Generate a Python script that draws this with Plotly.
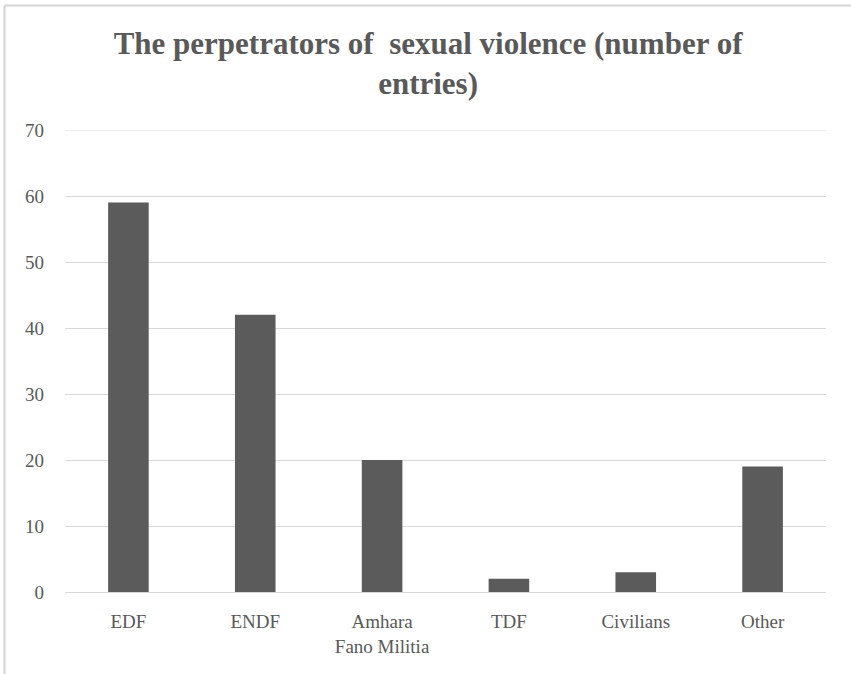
import plotly.graph_objects as go

categories = ["EDF", "ENDF", "Amhara<br>Fano Militia", "TDF", "Civilians", "Other"]
values = [59, 42, 20, 2, 3, 19]
y_ticks = [0, 10, 20, 30, 40, 50, 60, 70]

W, H = 851, 674
L, R, T, B = 65, 25, 130, 82
pw, ph = W - L - R, H - T - B

fig = go.Figure(go.Bar(
    x=categories, y=values,
    marker=dict(color="#5b5b5b", line=dict(width=0)),
    width=0.32,
))

font_family = "Liberation Serif, DejaVu Serif, serif"
fig.update_layout(
    width=W, height=H,
    margin=dict(l=L, r=R, t=T, b=B),
    paper_bgcolor="white", plot_bgcolor="white",
    showlegend=False,
    title=dict(
        text="<b>The perpetrators of  sexual violence (number of<br>entries)</b>",
        x=0.503, xanchor="center", y=1 - 54 / H, yanchor="top",
        font=dict(family=font_family, size=31, color="#595959"),
    ),
    font=dict(family=font_family, size=19, color="#595959"),
    bargap=0.68,
)
fig.update_xaxes(
    showgrid=False, showline=False, zeroline=False, ticks="",
    ticklabelstandoff=16,
    tickfont=dict(family=font_family, size=19, color="#595959"),
)
fig.update_yaxes(
    range=[0, 70], tickvals=y_ticks, showgrid=True, gridcolor="#d9d9d9", gridwidth=1,
    zeroline=True, zerolinecolor="#d9d9d9", zerolinewidth=1, showline=False, ticks="",
    ticklabelstandoff=20,
    tickfont=dict(family=font_family, size=19, color="#595959"),
)

# top gridline (at the edge of the range)
fig.add_shape(type="line", xref="paper", yref="y", x0=0, x1=1, y0=y_ticks[-1], y1=y_ticks[-1],
              line=dict(color="#d9d9d9", width=1), layer="below")

# outer chart border (top and left edges visible)
xl = (4.5 - L) / pw
xr = (W + 5 - L) / pw
yt = 1 + (T - 5.5) / ph
yb = -(B + 5) / ph
fig.add_shape(type="line", xref="paper", yref="paper", x0=xl, x1=xr, y0=yt, y1=yt,
              line=dict(color="#d4d4d4", width=2))
fig.add_shape(type="line", xref="paper", yref="paper", x0=xl, x1=xl, y0=yb, y1=yt,
              line=dict(color="#d4d4d4", width=2))

fig.write_html("out.html")
